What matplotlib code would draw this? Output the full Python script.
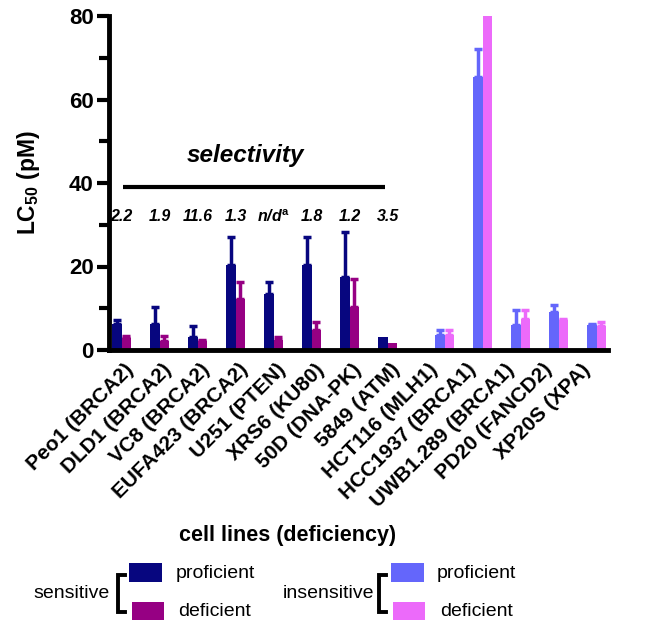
import numpy as np
import matplotlib
matplotlib.use("Agg")
import matplotlib.pyplot as plt
from matplotlib.patches import Rectangle
from matplotlib.lines import Line2D

plt.rcParams['font.family'] = ['Liberation Sans', 'DejaVu Sans']
plt.rcParams['mathtext.fontset'] = 'custom'
plt.rcParams['mathtext.rm'] = 'Liberation Sans'
plt.rcParams['mathtext.bf'] = 'Liberation Sans:bold'
plt.rcParams['mathtext.it'] = 'Liberation Sans:italic:bold'

categories = ["Peo1 (BRCA2)", "DLD1 (BRCA2)", "VC8 (BRCA2)", "EUFA423 (BRCA2)",
              "U251 (PTEN)", "XRS6 (KU80)", "50D (DNA-PK)", "5849 (ATM)",
              "HCT116 (MLH1)", "HCC1937 (BRCA1)", "UWB1.289 (BRCA1)",
              "PD20 (FANCD2)", "XP20S (XPA)"]

# sensitive lines (first 8)
sens_prof = [6.3, 6.3, 3.2, 20.3, 13.4, 20.3, 17.6, 3.2]
sens_prof_err = [1.0, 3.9, 2.6, 6.7, 2.9, 6.7, 10.6, 0.0]
sens_def = [2.8, 2.2, 2.2, 12.2, 2.3, 4.8, 10.3, 1.6]
sens_def_err = [0.6, 1.2, 0.2, 4.0, 0.8, 1.8, 6.6, 0.0]

# insensitive lines (last 5)
ins_prof = [3.6, 65.3, 6.1, 9.0, 6.0]
ins_prof_err = [1.2, 6.7, 3.6, 1.8, 0.3]
ins_def = [3.6, 80.0, 7.4, 7.2, 5.8]
ins_def_err = [1.2, 0.0, 2.3, 0.3, 0.8]

selectivity = ["2.2", "1.9", "11.6", "1.3", r"n/d$^{\mathbf{a}}$", "1.8", "1.2", "3.5"]

c_sp = "#07067f"
c_sd = "#960083"
c_ip = "#6466fb"
c_id = "#ec6afa"

fig = plt.figure(figsize=(6.51, 6.30), dpi=100)
ax = fig.add_axes([109/651, 1-350/630, (608-109)/651, (350-16)/630])

w = 0.25
ns = len(sens_prof)
ni = len(ins_prof)
xs = np.arange(ns)
xi = np.arange(ns, ns + ni)

def bars(x, vals, errs, color):
    ax.bar(x, vals, width=w, color=color, edgecolor='none', zorder=2)
    errs = np.array(errs)
    mask = errs > 0
    ax.errorbar(np.array(x)[mask], np.array(vals)[mask],
                yerr=[np.zeros(mask.sum()), errs[mask]],
                fmt='none', ecolor=color, elinewidth=2.5, capsize=3,
                capthick=2.5, zorder=3)

bars(xs - 0.375, sens_prof, sens_prof_err, c_sp)
bars(xs - 0.125, sens_def, sens_def_err, c_sd)
bars(xi + 0.125, ins_prof, ins_prof_err, c_ip)
bars(xi + 0.375, ins_def, ins_def_err, c_id)

ax.set_xlim(-0.58, 12.55)
ax.set_ylim(0, 80)
ax.set_yticks([0, 20, 40, 60, 80])
ax.set_yticks([10, 30, 50, 70], minor=True)
ax.set_xticks(np.arange(len(categories)))
ax.set_xticklabels(categories, rotation=45, ha='right', va='center',
                   rotation_mode='anchor', fontsize=15, fontweight='bold')
ax.tick_params(axis='x', length=0, pad=12)
ax.tick_params(axis='y', which='major', length=9, width=3, labelsize=16, pad=2)
ax.tick_params(axis='y', which='minor', length=7, width=3)
for lab in ax.get_yticklabels():
    lab.set_fontweight('bold')
for s in ['top', 'right']:
    ax.spines[s].set_visible(False)
ax.spines['left'].set_linewidth(3.5)
ax.spines['bottom'].set_linewidth(3.5)
ax.spines['bottom'].set_zorder(4)

ax.set_ylabel(r"LC$_{\mathbf{50}}$ (pM)", fontsize=16.5, fontweight='bold')
ax.yaxis.set_label_coords(-0.135, 0.5)

# selectivity annotation
ax.plot([-0.21, 6.68], [39.0, 39.0], color='black', lw=3, solid_capstyle='butt')
ax.text(3.0, 46.5, "selectivity", fontsize=17.5, fontweight='bold', fontstyle='italic',
        ha='center', va='center')
for i, s in enumerate(selectivity):
    ax.text(i - 0.25, 32.0, s, fontsize=11.5, fontweight='bold', fontstyle='italic',
            ha='center', va='center')

# x label
fig.text(288/651, 1-536/630, "cell lines (deficiency)", fontsize=15.5,
         fontweight='bold', ha='center', va='center')

# custom legend
def fy(p):
    return 1 - p/630
def fx(p):
    return p/651

def legend_block(x_label, label, x_br, x_p1, x_p2, x_t1, x_t2, col1, col2):
    fig.text(fx(x_label), fy(593), label, fontsize=14, ha='center', va='center')
    # bracket
    fig.add_artist(Line2D([fx(x_br + 7), fx(x_br), fx(x_br), fx(x_br + 7)],
                          [fy(575), fy(575), fy(612), fy(612)],
                          color='black', lw=2.8, solid_joinstyle='miter'))
    fig.add_artist(Rectangle((fx(x_p1), fy(582)), fx(33), 19/630,
                             facecolor=col1, edgecolor='none'))
    fig.add_artist(Rectangle((fx(x_p2), fy(620)), fx(32), 18/630,
                             facecolor=col2, edgecolor='none'))
    fig.text(fx(x_t1), fy(574), "proficient", fontsize=14, ha='left', va='center')
    fig.text(fx(x_t2), fy(611), "deficient", fontsize=14, ha='left', va='center')

legend_block(72, "sensitive", 118, 129, 132, 176, 178, c_sp, c_sd)
legend_block(328, "insensitive", 379, 391, 393, 437, 440, c_ip, c_id)

fig.savefig("out.png", dpi=100)
